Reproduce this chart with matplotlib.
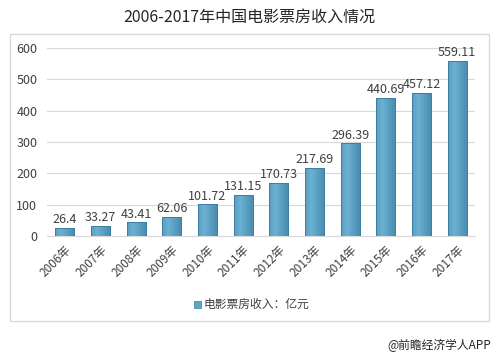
import numpy as np
import matplotlib.pyplot as plt
from matplotlib.patches import Rectangle
from matplotlib.colors import LinearSegmentedColormap

plt.rcParams['font.family'] = ['Noto Sans CJK SC', 'DejaVu Sans']

years = ['2006年', '2007年', '2008年', '2009年', '2010年', '2011年',
         '2012年', '2013年', '2014年', '2015年', '2016年', '2017年']
values = [26.4, 33.27, 43.41, 62.06, 101.72, 131.15,
          170.73, 217.69, 296.39, 440.69, 457.12, 559.11]
labels = ['26.4', '33.27', '43.41', '62.06', '101.72', '131.15',
          '170.73', '217.69', '296.39', '440.69', '457.12', '559.11']

fig = plt.figure(figsize=(4.99, 3.55), dpi=100)

# outer light frame
fig.patches.append(Rectangle((10 / 499, 1 - 321 / 355), 479 / 499, 287 / 355,
                             transform=fig.transFigure, fill=False,
                             edgecolor='#d9d9d9', linewidth=1.0))

ax = fig.add_axes([47 / 499, 1 - 236 / 355, 428 / 499, 188 / 355])
x = np.arange(len(years))
bars = ax.bar(x, values, width=0.53, color='#5fa4c6', edgecolor='#3d7fa0',
              linewidth=0.7, zorder=3)

# gentle horizontal shading on the bars
cmap = LinearSegmentedColormap.from_list('bar', ['#5a9fc2', '#6bb1d1', '#5a9fc2', '#4a8db0'])
grad = np.linspace(0, 1, 64)[np.newaxis, :]
for b in bars:
    x0, w, h = b.get_x(), b.get_width(), b.get_height()
    im = ax.imshow(grad, cmap=cmap, extent=[x0, x0 + w, 0, h],
                   aspect='auto', zorder=3.5)
    im.set_clip_path(b)
    ax.add_patch(Rectangle((x0, 0), w, h, fill=False, edgecolor='#3d7fa0',
                           linewidth=0.7, zorder=4))

for xi, v, lab in zip(x, values, labels):
    ax.text(xi, v + 5, lab, ha='center', va='bottom', fontsize=9,
            color='#404040')

ax.set_xlim(-0.5, len(years) - 0.5)
ax.set_ylim(0, 600)
ax.set_yticks(range(0, 601, 100))
ax.tick_params(axis='y', length=0, labelsize=9, labelcolor='#404040', pad=7)
ax.set_xticks(x)
ax.set_xticklabels(years, rotation=45, ha='right', rotation_mode='anchor',
                   fontsize=8.5, color='#404040')
ax.tick_params(axis='x', length=0, pad=5)
ax.yaxis.grid(True, color='#d9d9d9', linewidth=0.8, zorder=0)
for s in ['top', 'right', 'left']:
    ax.spines[s].set_visible(False)
ax.spines['bottom'].set_color('#d9d9d9')

# legend
fig.patches.append(Rectangle((194 / 499, 1 - 308 / 355), 7 / 499, 7 / 355,
                             transform=fig.transFigure, facecolor='#5fa4c6',
                             edgecolor='#3d7fa0', linewidth=0.5))
fig.text(204 / 499, 1 - 304 / 355, '电影票房收入：亿元', fontsize=8.5,
         color='#404040', va='center', ha='left')

fig.text(0.5, 1 - 17 / 355, '2006-2017年中国电影票房收入情况', fontsize=11.5,
         color='#262626', ha='center', va='center')
fig.text(491 / 499, 1 - 345 / 355, '@前瞻经济学人APP', fontsize=8.5,
         color='#262626', ha='right', va='center')

fig.savefig('out.png', dpi=100, facecolor='white')
